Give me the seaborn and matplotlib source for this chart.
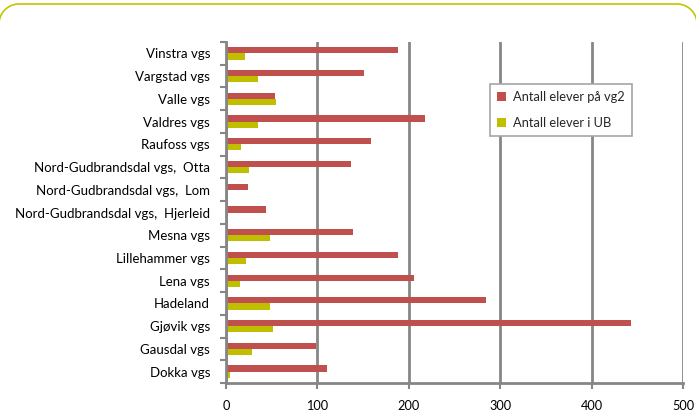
import matplotlib
matplotlib.use("Agg")
import matplotlib.pyplot as plt
import seaborn as sns
import pandas as pd
import numpy as np
from matplotlib.patches import Patch
from matplotlib.lines import Line2D
from matplotlib.ticker import FixedLocator

categories = ["Vinstra vgs", "Vargstad vgs", "Valle vgs", "Valdres vgs", "Raufoss vgs",
              "Nord-Gudbrandsdal vgs,  Otta", "Nord-Gudbrandsdal vgs,  Lom",
              "Nord-Gudbrandsdal vgs,  Hjerleid", "Mesna vgs", "Lillehammer vgs",
              "Lena vgs", "Hadeland", "Gjøvik vgs", "Gausdal vgs", "Dokka vgs"]
vg2 = [188, 151, 54, 218, 159, 137, 24, 44, 139, 188, 206, 284, 443, 98, 110]
ub = [21, 35, 55, 35, 16, 25, 0, 0, 48, 22, 15, 48, 51, 28, 4]
series = ["Antall elever på vg2", "Antall elever i UB"]
colors = ["#C0504D", "#BFBF00"]
xticks = [0, 100, 200, 300, 400, 500]

df = pd.DataFrame({
    "school": categories * 2,
    "value": vg2 + ub,
    "series": [series[0]] * len(categories) + [series[1]] * len(categories),
})

sns.set_style("white")
plt.rcParams["font.family"] = ["Lato", "DejaVu Sans"]

fig = plt.figure(figsize=(6.96, 4.11), dpi=100)
ax = fig.add_axes([226 / 696, 1 - 383 / 411, (683 - 226) / 696, (383 - 42) / 411])

sns.barplot(data=df, y="school", x="value", hue="series", order=categories,
            hue_order=series, palette=colors, orient="h", width=0.54,
            dodge=True, ax=ax, legend=False, saturation=1,
            edgecolor="none", linewidth=0)

gridc = "#868686"
ax.set_xlim(0, 500)
ax.set_ylim(len(categories) - 0.5, -0.5)
ax.set_xticks(xticks)
ax.set_xticklabels([str(t) for t in xticks])
ax.xaxis.grid(True, color=gridc, linewidth=2)
ax.yaxis.grid(False)
ax.set_axisbelow(True)
ax.set_xlabel("")
ax.set_ylabel("")

for s in ["top", "right"]:
    ax.spines[s].set_visible(False)
for s in ["left", "bottom"]:
    ax.spines[s].set_color(gridc)
    ax.spines[s].set_linewidth(2)

ax.tick_params(axis="x", bottom=True, length=4, width=1.5, color=gridc,
               labelsize=9.2, labelcolor="black", pad=8)
ax.tick_params(axis="y", which="major", left=False, labelsize=9.5,
               labelcolor="black", pad=8)
ax.yaxis.set_minor_locator(FixedLocator([i - 0.5 for i in range(len(categories) + 1)]))
ax.tick_params(axis="y", which="minor", left=True, length=4, width=1.5, color=gridc)

handles = [Patch(facecolor=c, edgecolor="none") for c in colors]
leg = ax.legend(handles, series, loc="upper left", bbox_to_anchor=(0.578, 0.878),
                frameon=True, fancybox=False, fontsize=9.3, handlelength=0.7,
                handleheight=0.7, handletextpad=0.5, labelspacing=1.1,
                borderpad=0.55, borderaxespad=0)
leg.get_frame().set_edgecolor("#A6A6A6")
leg.get_frame().set_linewidth(1.2)
leg.get_frame().set_facecolor("white")
leg.get_frame().set_alpha(1)

# decorative rounded top border of the chart area (figure pixels)
W, H = 696, 411
r = 20
top = 4
t1 = np.linspace(np.pi, np.pi / 2, 30)
t2 = np.linspace(np.pi / 2, 0, 30)
cxl, cxr, cy = -1 + r, W + 1 - r, top + r
xs = np.concatenate([cxl + r * np.cos(t1), cxr + r * np.cos(t2)])
ys = np.concatenate([cy - r * np.sin(t1), cy - r * np.sin(t2)])
fig.add_artist(Line2D(xs / W, 1 - ys / H, transform=fig.transFigure,
                      color="#C4C400", linewidth=1.2, clip_on=False))

fig.savefig("out.png", dpi=100)
